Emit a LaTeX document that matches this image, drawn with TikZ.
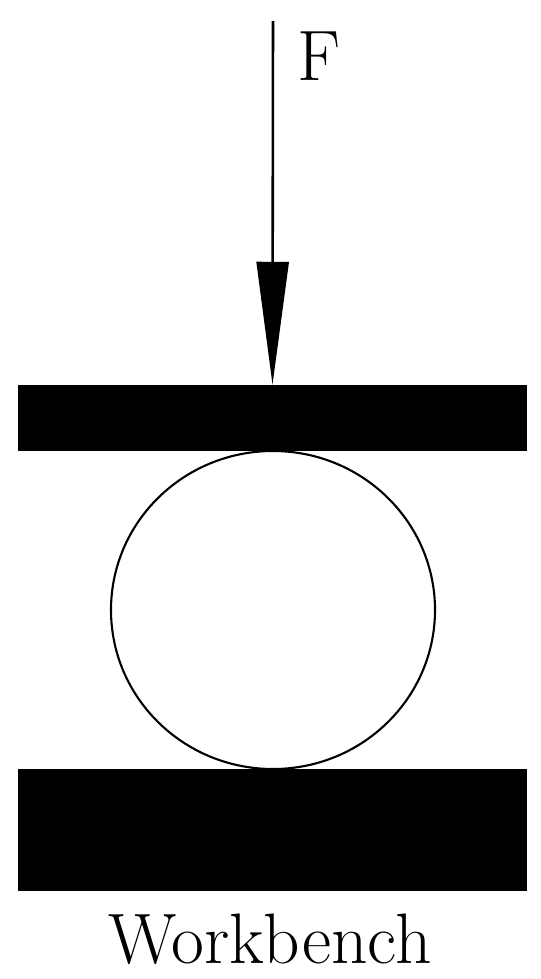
\documentclass[tikz,border=0pt]{standalone}
\usetikzlibrary{arrows.meta,shapes.geometric}
\begin{document}
\begin{tikzpicture}[x=0.03cm,y=-0.03cm,
	plate/.style={draw=none,fill=black,rectangle,inner sep=0pt,minimum width=15.27cm},
	tag/.style={inner sep=0pt,font=\rmfamily\fontsize{61}{64}\selectfont}]
\useasboundingbox (0,0) rectangle (541,979);

% Upper plate
\node [plate,
	minimum height=1.98cm] (upper) at (272.5,418){};

% Ball
\node [draw,
	ellipse,
	line width=1.8pt,
	inner sep=0pt,
	minimum width=9.72cm,
	minimum height=9.54cm] (ball) at (273,610){};

% Workbench plate
\node [plate,
	minimum height=3.66cm] (bench) at (272.5,830){};

% Force
\coordinate (ftop) at (273,21);
\draw [line width=2.2pt,-{Triangle[length=3.69cm,width=0.96cm]}] (ftop) -- (upper.north);
\node [tag,anchor=base west] (force) at (297,80) {F};

% Workbench label
\node [tag,anchor=base] (benchlabel) at (270,963) {Workbench};

\end{tikzpicture}
\end{document}
